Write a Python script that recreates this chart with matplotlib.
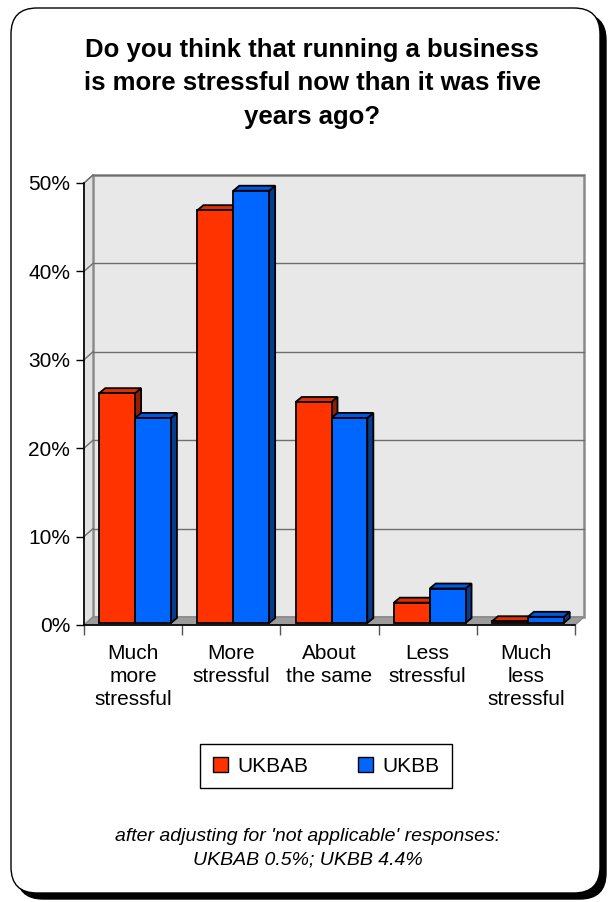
import matplotlib
matplotlib.use('Agg')
import matplotlib.pyplot as plt
import matplotlib.transforms as mtransforms
from matplotlib.patches import Polygon, Rectangle, FancyBboxPatch, Patch

plt.rcParams['font.family'] = ['Liberation Sans', 'DejaVu Sans']

# survey answers, percent of respondents
categories = ['Much\nmore\nstressful', 'More\nstressful', 'About\nthe same',
              'Less\nstressful', 'Much\nless\nstressful']
ukbab = [26.0, 46.7, 25.0, 2.3, 0.2]
ukbb = [23.2, 48.9, 23.2, 3.9, 0.7]
series_names = ['UKBAB', 'UKBB']
yticks = [0, 10, 20, 30, 40, 50]
ytick_labels = ['0%', '10%', '20%', '30%', '40%', '50%']

title = 'Do you think that running a business\nis more stressful now than it was five\nyears ago?'
note = "after adjusting for 'not applicable' responses:\nUKBAB 0.5%; UKBB 4.4%"

front = ['#FF3300', '#0066FF']
tops = ['#E22D00', '#0058E0']
sides = ['#951E00', '#063C90']

W, H = 609, 902
fig = plt.figure(figsize=(W / 100, H / 100), dpi=100)
px = mtransforms.IdentityTransform()

# white card with black drop shadow
fig.add_artist(FancyBboxPatch((17, 3), 589, 885, boxstyle='round,pad=0,rounding_size=26',
                              transform=px, fc='black', ec='black', lw=1, zorder=0))
fig.add_artist(FancyBboxPatch((11, 9), 589, 885, boxstyle='round,pad=0,rounding_size=26',
                              transform=px, fc='white', ec='black', lw=1, zorder=1))

ax = fig.add_axes([84 / W, (H - 625) / H, (575 - 84) / W, (625 - 183) / H])
ax.set_xlim(0, 5)
ax.set_ylim(0, 50)
ax.patch.set_visible(False)
ax.set_zorder(2)

# depth of the walls and of the bars, in pixels
WX, WY = 9, 8
BX0, BY0 = 2, 2
BX1, BY1 = 8, 7


def disp(pts, dx=0, dy=0):
    d = ax.transData.transform(pts)
    d[:, 0] += dx
    d[:, 1] += dy
    return d


def face(pts_front, pts_back, **kw):
    poly = Polygon(list(pts_front) + list(pts_back[::-1]), closed=True,
                   transform=px, clip_on=False, **kw)
    ax.add_patch(poly)


# back wall, side wall and floor
wall = mtransforms.offset_copy(ax.transData, fig=fig, x=WX, y=WY, units='dots')
ax.add_patch(Rectangle((0, 0), 5, 50, transform=wall, fc='#E8E8E8', ec='#8A8A8A',
                       lw=1.8, clip_on=False, zorder=0.5))
left = [(0, 0), (0, 50)]
face(disp(left), disp(left, WX, WY), fc='#E2E2E2', ec='#8A8A8A', lw=1, zorder=0.6)
floor = [(0, 0), (5, 0)]
face(disp(floor), disp(floor, WX, WY), fc='#9C9C9C', ec='#8A8A8A', lw=1, zorder=0.6)

# gridlines on the walls
for y in yticks[1:]:
    ax.plot([0, 5], [y, y], transform=wall, color='#6E6E6E', lw=1, clip_on=False, zorder=0.7)
    d = disp([(0, y)])
    b = disp([(0, y)], WX, WY)
    ax.plot([d[0, 0], b[0, 0]], [d[0, 1], b[0, 1]], transform=px, color='#6E6E6E',
            lw=1, clip_on=False, zorder=0.7)

# 3-D columns
bar_front = mtransforms.offset_copy(ax.transData, fig=fig, x=BX0, y=BY0, units='dots')
width = 0.365
z = 1.0
for i in range(len(categories)):
    for j, vals in enumerate([ukbab, ukbb]):
        x0 = i + 0.135 + j * width
        x1 = x0 + width
        h = vals[i]
        ax.bar(x0, h, width=width, align='edge', transform=bar_front, color=front[j],
               edgecolor='black', lw=1.3, zorder=z + 0.2, clip_on=False)
        side = [(x1, 0), (x1, h)]
        face(disp(side, BX0, BY0), disp(side, BX1, BY1), fc=sides[j], ec='black',
             lw=1.3, joinstyle='miter', zorder=z)
        top = [(x0, h), (x1, h)]
        face(disp(top, BX0, BY0), disp(top, BX1, BY1), fc=tops[j], ec='black',
             lw=1.3, joinstyle='miter', zorder=z + 0.1)
        z += 1

# axes, ticks and labels
for s in ['top', 'right']:
    ax.spines[s].set_visible(False)
for s in ['left', 'bottom']:
    ax.spines[s].set_color('black')
    ax.spines[s].set_linewidth(1.2)
    ax.spines[s].set_zorder(50)

ax.set_yticks(yticks)
ax.set_yticklabels(ytick_labels, fontsize=15)
ax.tick_params(axis='y', length=6, width=1, pad=4, color='black')
ax.set_xticks(range(6))
ax.set_xticklabels([])
ax.tick_params(axis='x', which='major', length=7, width=1, color='#555555')
ax.set_xticks([i + 0.5 for i in range(5)], minor=True)
ax.set_xticklabels(categories, minor=True, fontsize=15, linespacing=1.28)
ax.tick_params(axis='x', which='minor', length=0, pad=13.5)

fig.text(312 / W, (H - 38) / H, title, ha='center', va='top', fontsize=18.5,
         fontweight='bold', linespacing=1.5, zorder=3)

handles = [Patch(fc=front[k], ec='black', lw=1) for k in range(2)]
leg = fig.legend(handles, series_names, loc='center', ncol=2,
                 bbox_to_anchor=(326 / W, (H - 766) / H), fontsize=15,
                 frameon=True, fancybox=False, edgecolor='black', framealpha=1,
                 handlelength=0.7, handleheight=0.7, handletextpad=0.45,
                 columnspacing=2.4, borderpad=0.6)
leg.get_frame().set_linewidth(1)
leg.set_zorder(3)

fig.text(308 / W, (H - 828) / H, note, ha='center', va='top', fontsize=14,
         style='italic', linespacing=1.5, zorder=3)

fig.savefig('out.png', dpi=100)
